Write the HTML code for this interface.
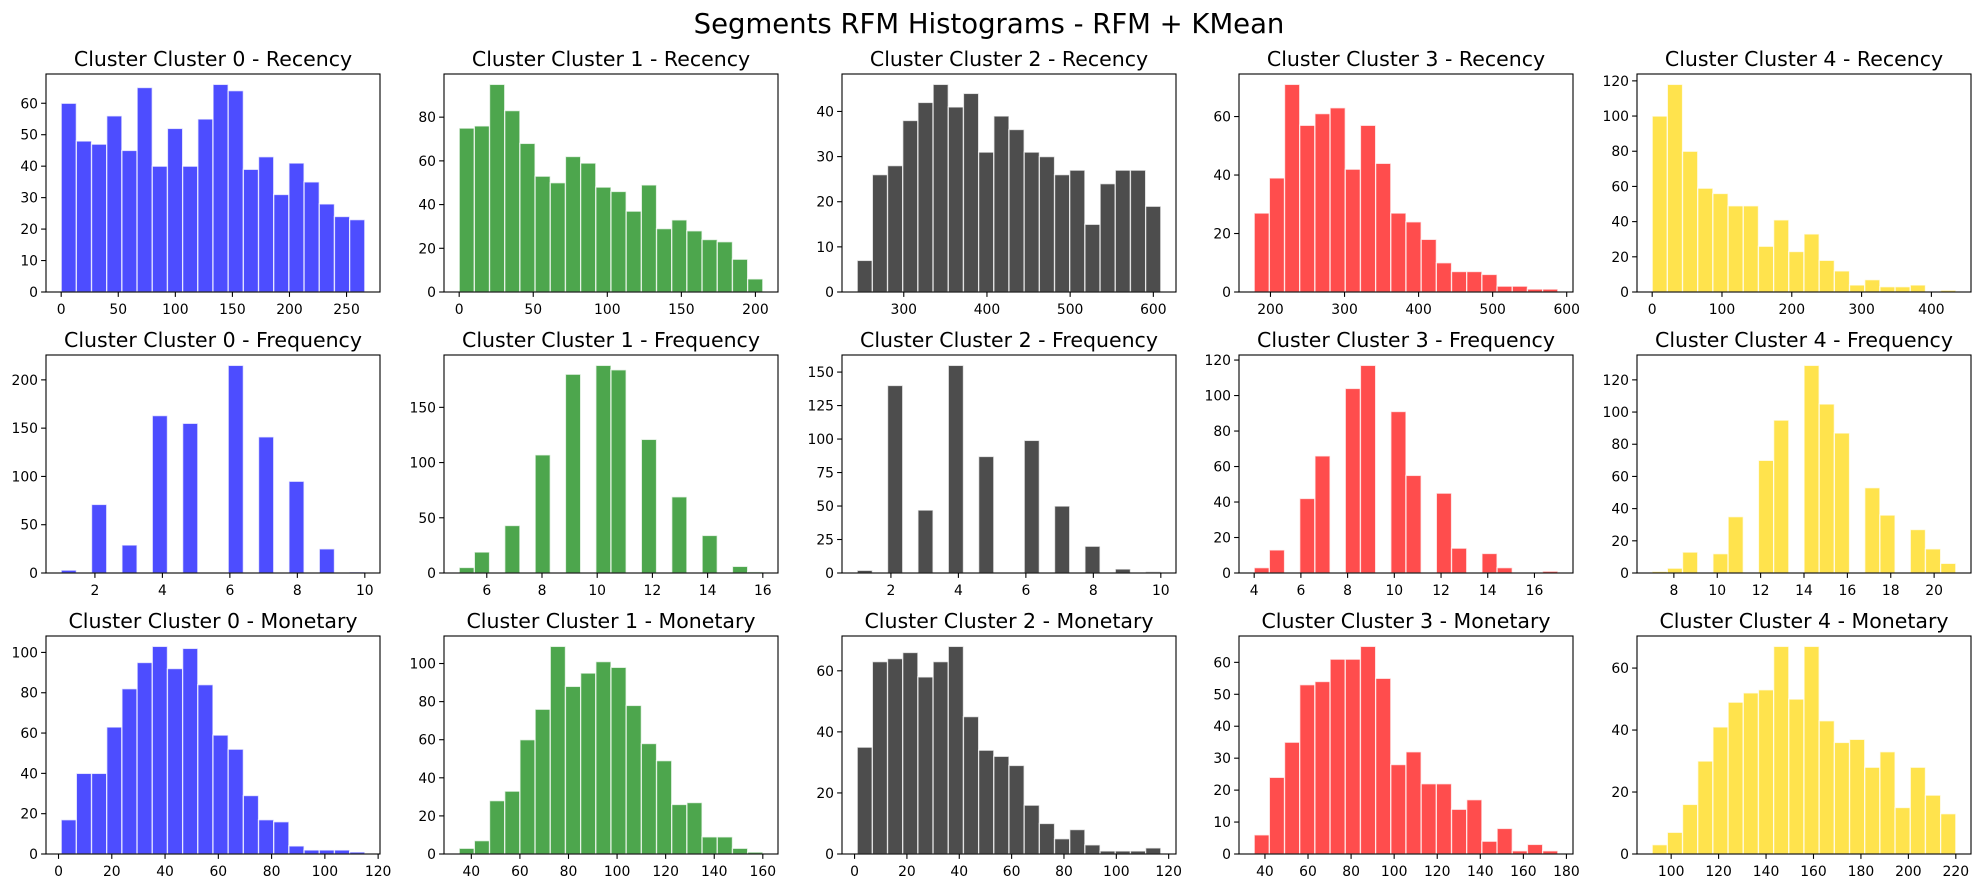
<!DOCTYPE html>
<html><head><meta charset="utf-8">
<style>
html,body{margin:0;padding:0;background:#fff;}
svg{display:block;font-family:"DejaVu Sans","Liberation Sans",sans-serif;}
</style></head>
<body>
<svg id="fig" width="1979" height="887" viewBox="0 0 1979 887" xmlns="http://www.w3.org/2000/svg">
<rect width="1979" height="887" fill="#fff"/>
<text x="989" y="33" font-size="27.5" text-anchor="middle" fill="#000">Segments RFM Histograms - RFM + KMean</text>
</svg>
<script>
// ---- data (counts per bin, bin range, ticks) ----
const clusterNames = ["Cluster 0","Cluster 1","Cluster 2","Cluster 3","Cluster 4"];
const metricNames = ["Recency","Frequency","Monetary"];
const clusterColors = ["#4d4dff","#4da64d","#4d4d4d","#ff4d4d","#ffe34d"];

const recencyCounts0 = [60,48,47,56,45,65,40,52,40,55,66,64,39,43,31,41,35,28,24,23];
const recencyCounts1 = [75,76,95,83,68,53,50,62,59,48,46,37,49,29,33,28,24,23,15,6];
const recencyCounts2 = [7,26,28,38,42,46,41,44,31,39,36,31,30,26,27,15,24,27,27,19];
const recencyCounts3 = [27,39,71,57,61,63,42,57,44,27,24,18,10,7,7,6,2,2,1,1];
const recencyCounts4 = [100,118,80,59,56,49,49,26,41,23,33,18,12,4,7,3,3,4,0,1];
const recencyRange0 = [0,266];
const recencyRange1 = [0,205];
const recencyRange2 = [244,609];
const recencyRange3 = [178,588];
const recencyRange4 = [0,435];
const recencyXTicks0 = [0,50,100,150,200,250];
const recencyXTicks1 = [0,50,100,150,200];
const recencyXTicks2 = [300,400,500,600];
const recencyXTicks3 = [200,300,400,500,600];
const recencyXTicks4 = [0,100,200,300,400];
const recencyYTicks0 = [0,10,20,30,40,50,60];
const recencyYTicks1 = [0,20,40,60,80];
const recencyYTicks2 = [0,10,20,30,40];
const recencyYTicks3 = [0,20,40,60];
const recencyYTicks4 = [0,20,40,60,80,100,120];

const frequencyCounts0 = [3,0,71,0,29,0,163,0,155,0,0,215,0,141,0,95,0,25,0,1];
const frequencyCounts1 = [5,19,0,43,0,107,0,180,0,188,184,0,121,0,69,0,34,0,6,1];
const frequencyCounts2 = [2,0,140,0,47,0,155,0,87,0,0,99,0,50,0,20,0,3,0,1];
const frequencyCounts3 = [3,13,0,42,66,0,104,117,0,91,55,0,45,14,0,11,3,0,0,1];
const frequencyCounts4 = [1,3,13,0,12,35,0,70,95,0,129,105,87,0,53,36,0,27,15,6];
const frequencyRange0 = [1,10];
const frequencyRange1 = [5,16];
const frequencyRange2 = [1,10];
const frequencyRange3 = [4,17];
const frequencyRange4 = [7,21];
const frequencyXTicks0 = [2,4,6,8,10];
const frequencyXTicks1 = [6,8,10,12,14,16];
const frequencyXTicks2 = [2,4,6,8,10];
const frequencyXTicks3 = [4,6,8,10,12,14,16];
const frequencyXTicks4 = [8,10,12,14,16,18,20];
const frequencyYTicks0 = [0,50,100,150,200];
const frequencyYTicks1 = [0,50,100,150];
const frequencyYTicks2 = [0,25,50,75,100,125,150];
const frequencyYTicks3 = [0,20,40,60,80,100,120];
const frequencyYTicks4 = [0,20,40,60,80,100,120];

const monetaryCounts0 = [17,40,40,63,82,95,103,92,102,84,59,52,29,17,16,4,2,2,2,1];
const monetaryCounts1 = [3,7,28,33,60,76,109,88,95,101,98,78,58,49,26,27,9,9,3,1];
const monetaryCounts2 = [35,63,64,66,58,63,68,45,34,32,29,16,10,5,8,3,1,1,1,2];
const monetaryCounts3 = [6,24,35,53,54,61,61,65,55,28,32,22,22,14,17,4,8,1,3,1];
const monetaryCounts4 = [3,7,16,30,41,49,52,53,67,50,67,43,36,37,28,33,15,28,19,13];
const monetaryRange0 = [1,115];
const monetaryRange1 = [35,160];
const monetaryRange2 = [1,117];
const monetaryRange3 = [35,176];
const monetaryRange4 = [92,220];
const monetaryXTicks0 = [0,20,40,60,80,100,120];
const monetaryXTicks1 = [40,60,80,100,120,140,160];
const monetaryXTicks2 = [0,20,40,60,80,100,120];
const monetaryXTicks3 = [40,60,80,100,120,140,160,180];
const monetaryXTicks4 = [100,120,140,160,180,200,220];
const monetaryYTicks0 = [0,20,40,60,80,100];
const monetaryYTicks1 = [0,20,40,60,80,100];
const monetaryYTicks2 = [0,20,40,60];
const monetaryYTicks3 = [0,10,20,30,40,50,60];
const monetaryYTicks4 = [0,20,40,60];

const panels = [
 [recencyCounts0,recencyRange0,recencyXTicks0,recencyYTicks0],
 [recencyCounts1,recencyRange1,recencyXTicks1,recencyYTicks1],
 [recencyCounts2,recencyRange2,recencyXTicks2,recencyYTicks2],
 [recencyCounts3,recencyRange3,recencyXTicks3,recencyYTicks3],
 [recencyCounts4,recencyRange4,recencyXTicks4,recencyYTicks4],
 [frequencyCounts0,frequencyRange0,frequencyXTicks0,frequencyYTicks0],
 [frequencyCounts1,frequencyRange1,frequencyXTicks1,frequencyYTicks1],
 [frequencyCounts2,frequencyRange2,frequencyXTicks2,frequencyYTicks2],
 [frequencyCounts3,frequencyRange3,frequencyXTicks3,frequencyYTicks3],
 [frequencyCounts4,frequencyRange4,frequencyXTicks4,frequencyYTicks4],
 [monetaryCounts0,monetaryRange0,monetaryXTicks0,monetaryYTicks0],
 [monetaryCounts1,monetaryRange1,monetaryXTicks1,monetaryYTicks1],
 [monetaryCounts2,monetaryRange2,monetaryXTicks2,monetaryYTicks2],
 [monetaryCounts3,monetaryRange3,monetaryXTicks3,monetaryYTicks3],
 [monetaryCounts4,monetaryRange4,monetaryXTicks4,monetaryYTicks4]
];

// ---- layout ----
const NS = "http://www.w3.org/2000/svg";
const svg = document.getElementById("fig");
const colLefts = [46,444,842,1239,1637];
const rowTops = [74,355,636];
const AW = 334, AH = 218;

function mk(tag, attrs, parent){
  const e = document.createElementNS(NS, tag);
  for (const k in attrs) e.setAttribute(k, attrs[k]);
  parent.appendChild(e);
  return e;
}

panels.forEach((p, i) => {
  const [counts, range, xticks, yticks] = p;
  const row = Math.floor(i/5), col = i%5;
  const L = colLefts[col], T = rowTops[row];
  const lo = range[0], hi = range[1];
  const span = hi - lo;
  const xmin = lo - 0.05*span, xmax = hi + 0.05*span;
  const ymax = Math.max(...counts) * 1.05;
  const xs = v => L + (v - xmin)/(xmax - xmin)*AW;
  const ys = v => T + AH - v/ymax*AH;

  const g = mk("g", {}, svg);
  
  

  const title = mk("text", {x: L + AW/2, y: T - 8, "font-size": 20.5, "text-anchor": "middle", fill: "#000"}, g);
  title.textContent = "Cluster " + clusterNames[col] + " - " + metricNames[row];
  
  

  const n = counts.length, w = span / n;
  counts.forEach((c, k) => {
    if (c <= 0) return;
    const x0 = xs(lo + k*w), x1 = xs(lo + (k+1)*w);
    const r = mk("rect", {x: x0, y: ys(c), width: x1 - x0, height: ys(0) - ys(c),
      fill: clusterColors[col], stroke: "rgba(255,255,255,0.75)", "stroke-width": 1.3}, g);
    
    
  });

  xticks.forEach(t => {
    const x = xs(t);
    const tk = mk("line", {x1: x, x2: x, y1: T + AH, y2: T + AH + 4.9, stroke: "#000", "stroke-width": 1.1}, g);
    
    
    const lb = mk("text", {x: x, y: T + AH + 22, "font-size": 13.9, "text-anchor": "middle", fill: "#000"}, g);
    lb.textContent = t;
    
    
  });
  yticks.forEach(t => {
    const y = ys(t);
    const tk = mk("line", {x1: L - 4.9, x2: L, y1: y, y2: y, stroke: "#000", "stroke-width": 1.1}, g);
    
    
    const lb = mk("text", {x: L - 8, y: y + 5, "font-size": 13.9, "text-anchor": "end", fill: "#000"}, g);
    lb.textContent = t;
    
    
  });

  const frame = mk("rect", {x: L, y: T, width: AW, height: AH, fill: "none", stroke: "#000", "stroke-width": 1.1}, g);
  
  
});
</script>
</body></html>
